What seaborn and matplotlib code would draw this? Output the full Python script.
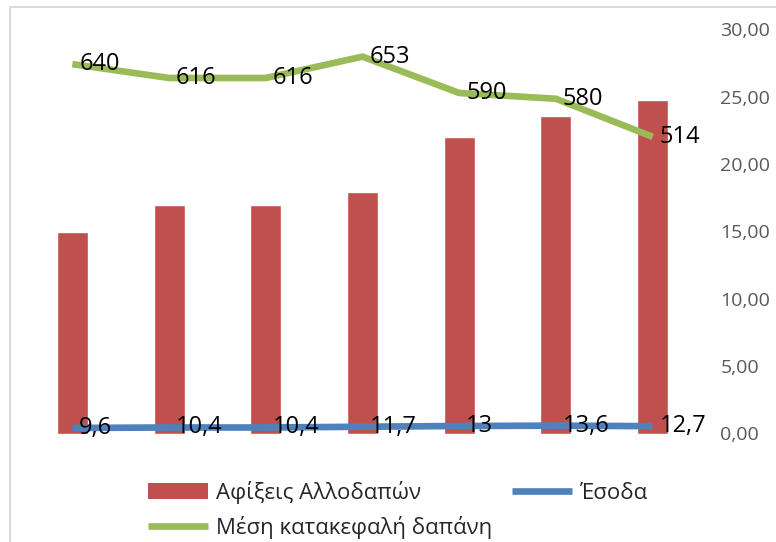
import numpy as np
import pandas as pd
import matplotlib
matplotlib.use("Agg")
import matplotlib.pyplot as plt
from matplotlib.patches import Rectangle, Patch
from matplotlib.lines import Line2D
import seaborn as sns

# Data
years = ["2010", "2011", "2012", "2013", "2014", "2015", "2016"]
arrivals = [15.0, 17.0, 17.0, 17.9, 22.0, 23.6, 24.8]      # right axis
revenue = [9.6, 10.4, 10.4, 11.7, 13.0, 13.6, 12.7]        # hidden axis 0-700
spend = [640, 616, 616, 653, 590, 580, 514]                # hidden axis 0-700

right_ticks = [0, 5, 10, 15, 20, 25, 30]

series_names = ["Αφίξεις Αλλοδαπών", "Έσοδα", "Μέση κατακεφαλή δαπάνη"]

RED = "#C0504D"
BLUE = "#4F81BD"
GREEN = "#9BBB59"

sns.set_theme(style="white")
plt.rcParams["font.family"] = ["Open Sans", "DejaVu Sans"]

W, H = 776, 542
fig = plt.figure(figsize=(W / 100, H / 100), dpi=100)

def px_axes(x0, y0, x1, y1):
    return [x0 / W, 1 - y1 / H, (x1 - x0) / W, (y1 - y0) / H]

ax = fig.add_axes(px_axes(24, 29.5, 701, 433.5))

df = pd.DataFrame({"year": years, "arrivals": arrivals,
                   "revenue": revenue, "spend": spend})

sns.barplot(data=df, x="year", y="arrivals", color=RED, saturation=1,
            width=0.32, ax=ax)

# hidden primary scale for the two lines, drawn above the bars
ax2 = ax.twinx()
pos = np.arange(len(years))
sns.lineplot(x=pos, y=revenue, ax=ax2, color=BLUE, linewidth=4.8,
             solid_capstyle="butt")
sns.lineplot(x=pos, y=spend, ax=ax2, color=GREEN, linewidth=4.8,
             solid_capstyle="butt")
ax2.set_ylim(0, 700)
ax2.set_xlim(-0.5, len(years) - 0.5)
ax2.set_yticks([])
ax2.set_ylabel("")
for s in ax2.spines.values():
    s.set_visible(False)

ax.set_xlim(-0.5, len(years) - 0.5)
ax.set_ylim(0, 30)
ax.yaxis.tick_right()
ax.set_yticks(right_ticks)
ax.set_yticklabels([f"{t:.2f}".replace(".", ",") for t in right_ticks])
ax.tick_params(axis="y", which="both", left=False, right=False,
               labelleft=False, labelright=True, length=0, pad=14,
               labelcolor="#595959", labelsize=14)
ax.set_xticks([])
ax.set_xlabel("")
ax.set_ylabel("")
for s in ax.spines.values():
    s.set_visible(False)

def fmt(v):
    return (f"{v:g}").replace(".", ",")

for i, v in enumerate(revenue):
    ax2.annotate(fmt(v), (i, v), xytext=(5, 0), textcoords="offset points",
                 ha="left", va="center", fontsize=17, color="black")
for i, v in enumerate(spend):
    ax2.annotate(fmt(v), (i, v), xytext=(5, 0), textcoords="offset points",
                 ha="left", va="center", fontsize=17, color="black")

handles = [Patch(facecolor=RED, edgecolor="none"),
           Line2D([], [], color=GREEN, linewidth=4.8, solid_capstyle="butt"),
           Line2D([], [], color=BLUE, linewidth=4.8, solid_capstyle="butt")]
labels = [series_names[0], series_names[2], series_names[1]]
fig.legend(handles, labels, ncol=2, loc="upper left",
           bbox_to_anchor=(148 / W, 1 - 481 / H), frameon=False,
           fontsize=16, handlelength=2.7, handleheight=0.7,
           handletextpad=0.35, columnspacing=0.9, labelspacing=0.53,
           borderpad=0, borderaxespad=0)

# outer chart frame
fig.patches.append(Rectangle((9.5 / W, -0.1), 1.2, (1 - 6.5 / H) + 0.1,
                             transform=fig.transFigure, fill=False,
                             edgecolor="#D9D9D9", linewidth=1.4))

fig.savefig("out.png", dpi=100)
